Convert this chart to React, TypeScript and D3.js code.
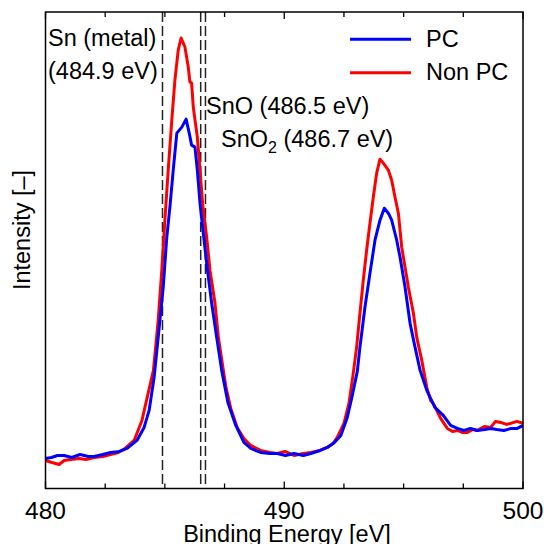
import React from "react";
import * as d3 from "d3";

const pcSeries: [number, number][] = [
  [480.0, 30], [480.25, 31], [480.5, 33], [480.78, 33], [481.1, 31], [481.45, 34], [481.8, 32], [482.03, 32], [482.4, 34], [482.73, 36], [483.1, 37], [483.41, 40], [483.83, 48], [484.13, 61], [484.34, 78], [484.55, 111], [484.72, 151], [484.93, 201], [485.08, 251], [485.21, 281], [485.35, 318], [485.5, 355], [485.71, 361], [485.89, 369], [486.02, 355], [486.12, 343], [486.26, 341], [486.36, 318], [486.47, 285], [486.61, 255], [486.75, 225], [486.96, 185], [487.17, 151], [487.38, 118], [487.64, 86], [487.97, 63], [488.31, 46], [488.6, 40], [489.01, 36], [489.4, 35], [489.71, 35], [490.05, 33], [490.41, 35], [490.8, 33], [491.11, 35], [491.5, 38], [491.8, 41], [492.1, 46], [492.37, 53], [492.64, 71], [492.85, 93], [493.06, 117], [493.17, 141], [493.38, 181], [493.59, 215], [493.8, 248], [494.01, 268], [494.19, 280], [494.36, 275], [494.5, 268], [494.71, 248], [494.85, 231], [495.06, 201], [495.27, 165], [495.48, 141], [495.69, 118], [495.97, 98], [496.31, 81], [496.66, 73], [496.97, 63], [497.25, 60], [497.53, 58], [497.8, 60], [498.09, 58], [498.4, 59], [498.65, 60], [498.9, 59], [499.2, 58], [499.5, 60], [499.76, 60], [500.0, 63],
];

const nonPcSeries: [number, number][] = [
  [480.0, 28], [480.27, 26], [480.57, 24], [480.78, 28], [481.06, 29], [481.4, 30], [481.7, 29], [482.03, 31], [482.4, 32], [482.73, 34], [483.05, 36], [483.33, 40], [483.71, 48], [484.04, 68], [484.25, 90], [484.52, 118], [484.72, 168], [484.87, 218], [485.0, 268], [485.14, 318], [485.29, 368], [485.42, 408], [485.56, 438], [485.68, 450], [485.84, 441], [485.98, 421], [486.05, 406], [486.12, 405], [486.19, 381], [486.36, 351], [486.47, 318], [486.58, 285], [486.75, 251], [486.89, 218], [487.1, 185], [487.24, 151], [487.45, 118], [487.56, 101], [487.76, 80], [488.03, 61], [488.31, 50], [488.6, 43], [489.01, 38], [489.4, 36], [489.71, 35], [490.03, 37], [490.41, 33], [490.8, 35], [491.11, 36], [491.5, 38], [491.8, 41], [492.05, 45], [492.22, 51], [492.5, 65], [492.71, 85], [492.89, 115], [493.03, 141], [493.17, 175], [493.31, 208], [493.45, 238], [493.59, 265], [493.73, 291], [493.87, 315], [494.01, 329], [494.15, 325], [494.36, 318], [494.5, 308], [494.64, 291], [494.78, 275], [494.92, 241], [495.06, 221], [495.2, 201], [495.41, 175], [495.55, 151], [495.76, 128], [495.97, 101], [496.13, 88], [496.24, 85], [496.55, 70], [496.83, 60], [497.05, 57], [497.25, 58], [497.45, 56], [497.67, 56], [497.9, 59], [498.09, 58], [498.4, 62], [498.65, 61], [498.85, 67], [499.07, 66], [499.3, 64], [499.48, 65], [499.75, 67], [500.0, 65],
];

const refLines = [484.9, 486.5, 486.7];
const xDomain: [number, number] = [480, 500];
const yDomain: [number, number] = [0, 476];
const majorTicks = [480, 490, 500];
const minorTicks = [482.5, 485, 487.5, 492.5, 495, 497.5];
const legendItems = [
  { label: "PC", color: "#0000ff" },
  { label: "Non PC", color: "#ff0000" },
];

const W = 544, H = 544;
const L = 45.5, R = 523, T = 12, B = 488.5;
const FONT = "'Liberation Sans', Arial, Helvetica, sans-serif";

export default function App() {
  const x = d3.scaleLinear().domain(xDomain).range([L, R]);
  const y = d3.scaleLinear().domain(yDomain).range([B, T]);
  const line = d3.line<[number, number]>().x(d => x(d[0])).y(d => y(d[1]));
  const fs = 23.5;
  return (
    <svg width={W} height={H} style={{ position: "absolute", left: 0, top: 0, background: "#fff" }} fontFamily={FONT}>
      <defs>
        <clipPath id="plot"><rect x={L} y={T} width={R - L} height={B - T} /></clipPath>
      </defs>
      {refLines.map(v => (
        <line key={v} x1={x(v)} x2={x(v)} y1={T} y2={B} stroke="#222" strokeWidth={1.5} strokeDasharray="10,4" />
      ))}
      <g clipPath="url(#plot)">
        <path d={line(nonPcSeries) || ""} fill="none" stroke="#ff0000" strokeWidth={3} strokeLinejoin="round" />
        <path d={line(pcSeries) || ""} fill="none" stroke="#0000ff" strokeWidth={3} strokeLinejoin="round" />
      </g>
      <rect x={L} y={T} width={R - L} height={B - T} fill="none" stroke="#000" strokeWidth={1.5} />
      {majorTicks.map(v => (
        <g key={"M" + v}>
          <line x1={x(v)} x2={x(v)} y1={B} y2={B - 7} stroke="#000" strokeWidth={1.3} />
          <line x1={x(v)} x2={x(v)} y1={T} y2={T + 7} stroke="#000" strokeWidth={1.3} />
          <text x={x(v)} y={518.5} fontSize={24.5} textAnchor="middle">{v}</text>
        </g>
      ))}
      {minorTicks.map(v => (
        <g key={"m" + v}>
          <line x1={x(v)} x2={x(v)} y1={B} y2={B - 5} stroke="#000" strokeWidth={1.3} />
          <line x1={x(v)} x2={x(v)} y1={T} y2={T + 5} stroke="#000" strokeWidth={1.3} />
        </g>
      ))}
      <text x={287} y={541.5} fontSize={fs} textAnchor="middle">Binding Energy [eV]</text>
      <text transform="translate(29.5,230) rotate(-90)" fontSize={fs} textAnchor="middle">Intensity [–]</text>
      <text x={48} y={46} fontSize={fs}>Sn (metal)</text>
      <text x={48} y={79} fontSize={fs}>(484.9 eV)</text>
      <text x={206} y={114} fontSize={fs}>SnO (486.5 eV)</text>
      <text x={221} y={147} fontSize={fs}>SnO<tspan fontSize={16} dy={6}>2</tspan><tspan dy={-6}> (486.7 eV)</tspan></text>
      {legendItems.map((it, i) => (
        <g key={it.label}>
          <line x1={350} x2={411} y1={39.3 + i * 33.4} y2={39.3 + i * 33.4} stroke={it.color} strokeWidth={3} />
          <text x={426} y={46.5 + i * 33.4} fontSize={fs}>{it.label}</text>
        </g>
      ))}
    </svg>
  );
}
